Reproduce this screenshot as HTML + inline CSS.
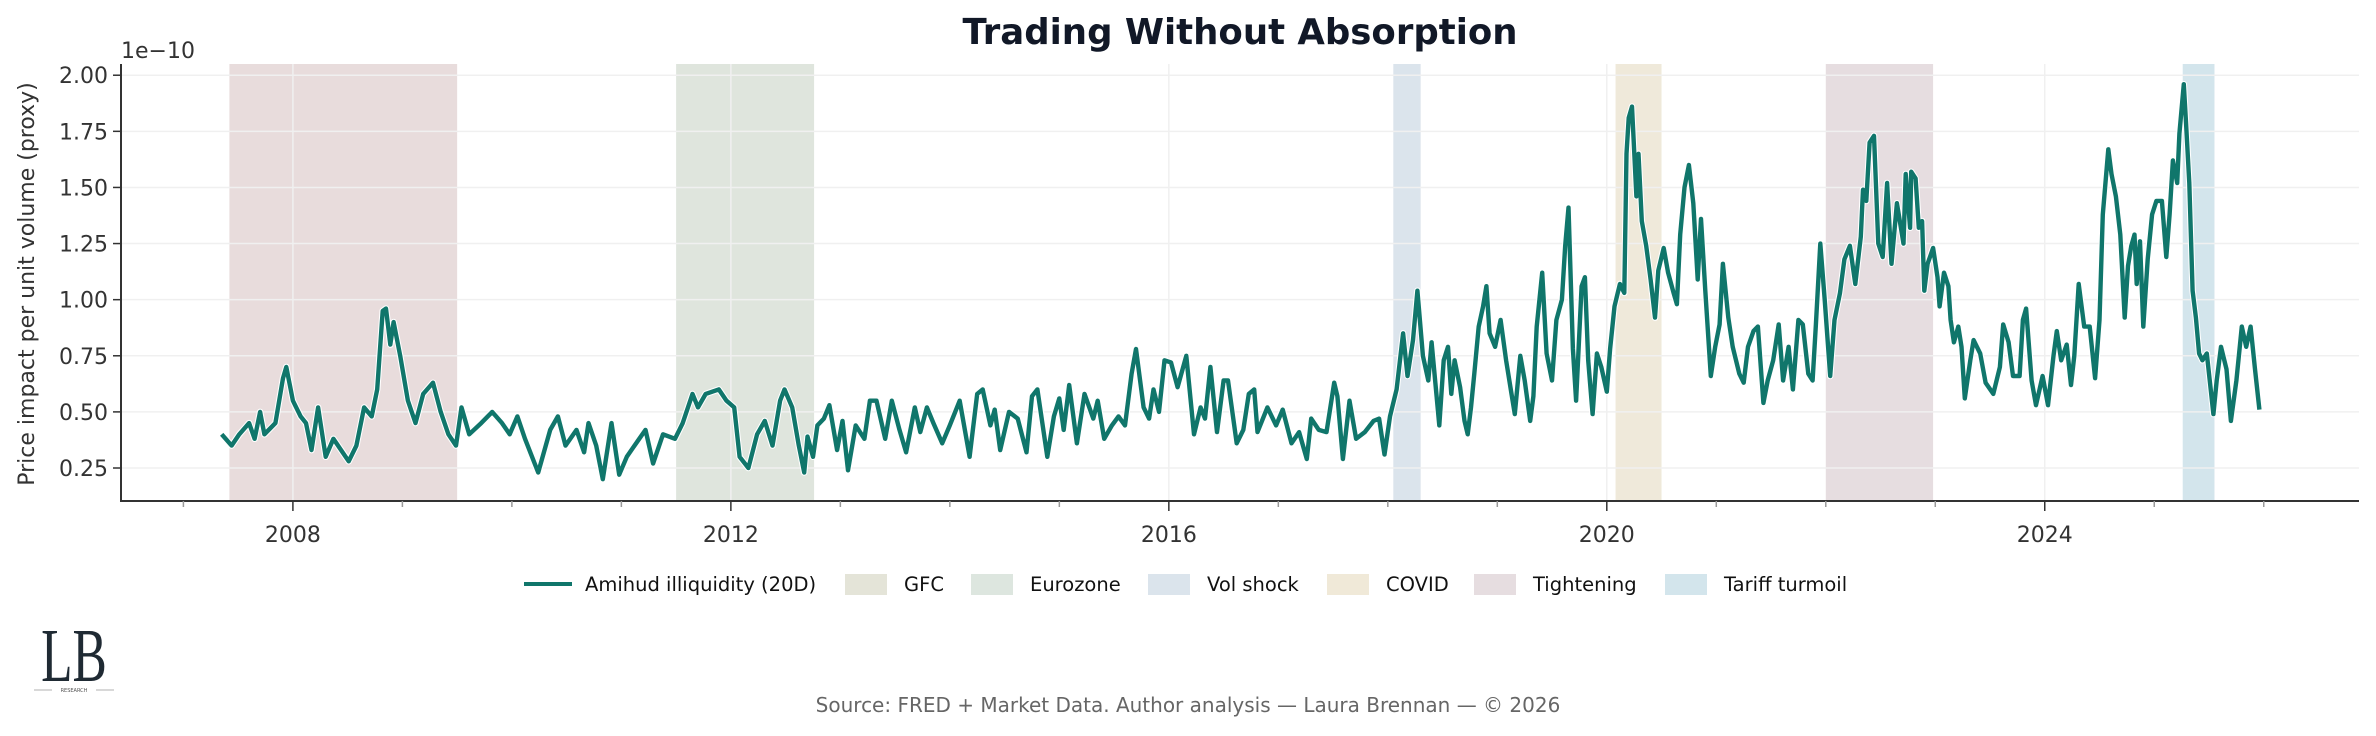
<!DOCTYPE html>
<html><head><meta charset="utf-8"><style>
html,body{margin:0;padding:0;background:#fff;}
svg{display:block;font-family:"DejaVu Sans","Liberation Sans",sans-serif;}
</style></head><body>
<svg id="chart" width="2376" height="736" viewBox="0 0 2376 736">
<text x="1240" y="44" text-anchor="middle" font-size="35.5" font-weight="bold" fill="#111827">Trading Without Absorption</text>
<text x="121" y="58" font-size="22" fill="#333">1e−10</text>
<text transform="translate(34,284) rotate(-90)" text-anchor="middle" font-size="22" fill="#333">Price impact per unit volume (proxy)</text>
<g id="bands"></g><g id="grid"></g><g id="series"></g><g id="axes"></g><g id="legend"></g>
<g>
<text x="74" y="681" text-anchor="middle" font-family="Liberation Serif,serif" font-size="66" fill="#1f2a33" transform="translate(74,681) scale(0.78,1.15) translate(-74,-681)">LB</text>
<line x1="34" y1="690" x2="52" y2="690" stroke="#999" stroke-width="0.8"/>
<line x1="96" y1="690" x2="114" y2="690" stroke="#999" stroke-width="0.8"/>
<text x="74" y="692" text-anchor="middle" font-size="5" fill="#555">RESEARCH</text>
</g>
<text x="1188" y="712" text-anchor="middle" font-size="20" fill="#666">Source: FRED + Market Data. Author analysis — Laura Brennan — © 2026</text>
</svg>
<script>
const years = [2007.35,2007.44,2007.51,2007.60,2007.65,2007.70,2007.74,2007.84,2007.91,2007.94,2008.00,2008.07,2008.12,2008.17,2008.23,2008.30,2008.37,2008.44,2008.51,2008.58,2008.65,2008.72,2008.77,2008.82,2008.85,2008.89,2008.92,2008.98,2009.05,2009.12,2009.19,2009.28,2009.35,2009.42,2009.49,2009.54,2009.61,2009.72,2009.82,2009.91,2009.98,2010.05,2010.12,2010.24,2010.35,2010.42,2010.49,2010.59,2010.66,2010.70,2010.77,2010.83,2010.91,2010.98,2011.05,2011.12,2011.22,2011.29,2011.38,2011.49,2011.56,2011.65,2011.70,2011.77,2011.89,2011.96,2012.03,2012.08,2012.16,2012.24,2012.31,2012.38,2012.45,2012.49,2012.56,2012.62,2012.67,2012.70,2012.75,2012.79,2012.85,2012.90,2012.97,2013.02,2013.07,2013.14,2013.22,2013.27,2013.33,2013.41,2013.47,2013.54,2013.60,2013.68,2013.73,2013.79,2013.85,2013.93,2014.00,2014.09,2014.18,2014.25,2014.30,2014.37,2014.41,2014.46,2014.54,2014.62,2014.70,2014.75,2014.80,2014.89,2014.95,2015.00,2015.04,2015.09,2015.16,2015.23,2015.31,2015.35,2015.41,2015.48,2015.54,2015.60,2015.66,2015.70,2015.77,2015.82,2015.86,2015.91,2015.96,2016.02,2016.08,2016.16,2016.23,2016.29,2016.33,2016.38,2016.44,2016.50,2016.54,2016.62,2016.68,2016.73,2016.78,2016.81,2016.90,2016.98,2017.04,2017.12,2017.19,2017.26,2017.30,2017.37,2017.44,2017.51,2017.54,2017.59,2017.65,2017.71,2017.79,2017.87,2017.92,2017.97,2018.02,2018.08,2018.14,2018.18,2018.23,2018.27,2018.32,2018.37,2018.40,2018.47,2018.51,2018.55,2018.58,2018.61,2018.66,2018.70,2018.73,2018.76,2018.79,2018.83,2018.87,2018.90,2018.93,2018.98,2019.03,2019.08,2019.13,2019.16,2019.21,2019.25,2019.30,2019.33,2019.36,2019.41,2019.45,2019.50,2019.54,2019.59,2019.62,2019.65,2019.69,2019.72,2019.77,2019.80,2019.83,2019.87,2019.91,2019.95,2020.00,2020.03,2020.07,2020.12,2020.16,2020.18,2020.20,2020.23,2020.27,2020.29,2020.32,2020.36,2020.40,2020.44,2020.47,2020.52,2020.56,2020.61,2020.64,2020.67,2020.71,2020.75,2020.79,2020.83,2020.86,2020.90,2020.95,2020.99,2021.03,2021.06,2021.11,2021.15,2021.21,2021.25,2021.29,2021.34,2021.38,2021.43,2021.47,2021.52,2021.57,2021.61,2021.66,2021.70,2021.75,2021.79,2021.84,2021.88,2021.91,2021.95,2021.99,2022.04,2022.08,2022.13,2022.17,2022.22,2022.27,2022.32,2022.34,2022.37,2022.40,2022.44,2022.48,2022.52,2022.56,2022.60,2022.65,2022.71,2022.73,2022.77,2022.78,2022.82,2022.85,2022.88,2022.90,2022.93,2022.98,2023.02,2023.04,2023.08,2023.12,2023.14,2023.17,2023.21,2023.24,2023.27,2023.32,2023.35,2023.41,2023.46,2023.53,2023.59,2023.62,2023.67,2023.71,2023.77,2023.80,2023.83,2023.88,2023.92,2023.98,2024.03,2024.08,2024.11,2024.15,2024.20,2024.24,2024.27,2024.31,2024.36,2024.41,2024.46,2024.50,2024.53,2024.58,2024.61,2024.65,2024.69,2024.73,2024.76,2024.79,2024.82,2024.84,2024.87,2024.90,2024.94,2024.98,2025.02,2025.07,2025.11,2025.14,2025.17,2025.21,2025.23,2025.27,2025.29,2025.32,2025.35,2025.38,2025.41,2025.44,2025.48,2025.54,2025.57,2025.61,2025.66,2025.70,2025.75,2025.80,2025.84,2025.88,2025.92,2025.96];
const amihud = [0.40,0.35,0.40,0.45,0.38,0.50,0.40,0.45,0.65,0.70,0.55,0.48,0.45,0.33,0.52,0.30,0.38,0.33,0.28,0.35,0.52,0.48,0.60,0.95,0.96,0.80,0.90,0.75,0.55,0.45,0.58,0.63,0.50,0.40,0.35,0.52,0.40,0.45,0.50,0.45,0.40,0.48,0.38,0.23,0.42,0.48,0.35,0.42,0.32,0.45,0.35,0.20,0.45,0.22,0.30,0.35,0.42,0.27,0.40,0.38,0.45,0.58,0.52,0.58,0.60,0.55,0.52,0.30,0.25,0.40,0.46,0.35,0.55,0.60,0.52,0.35,0.23,0.39,0.30,0.44,0.47,0.53,0.33,0.46,0.24,0.44,0.38,0.55,0.55,0.38,0.55,0.42,0.32,0.52,0.41,0.52,0.45,0.36,0.44,0.55,0.30,0.58,0.60,0.44,0.51,0.33,0.50,0.47,0.32,0.57,0.60,0.30,0.48,0.56,0.42,0.62,0.36,0.58,0.47,0.55,0.38,0.44,0.48,0.44,0.67,0.78,0.52,0.47,0.60,0.50,0.73,0.72,0.61,0.75,0.40,0.52,0.47,0.70,0.41,0.64,0.64,0.36,0.42,0.58,0.60,0.41,0.52,0.44,0.51,0.36,0.41,0.29,0.47,0.42,0.41,0.63,0.57,0.29,0.55,0.38,0.41,0.46,0.47,0.31,0.48,0.60,0.85,0.66,0.82,1.04,0.75,0.64,0.81,0.44,0.73,0.79,0.58,0.73,0.61,0.46,0.40,0.52,0.67,0.88,0.97,1.06,0.85,0.79,0.91,0.73,0.58,0.49,0.75,0.64,0.46,0.57,0.88,1.12,0.76,0.64,0.91,1.00,1.24,1.41,0.78,0.55,1.06,1.10,0.73,0.49,0.76,0.70,0.59,0.78,0.97,1.07,1.03,1.65,1.81,1.86,1.46,1.65,1.35,1.24,1.09,0.92,1.13,1.23,1.12,1.03,0.98,1.29,1.50,1.60,1.43,1.09,1.36,1.04,0.66,0.79,0.89,1.16,0.92,0.79,0.67,0.63,0.79,0.86,0.88,0.54,0.64,0.73,0.89,0.64,0.79,0.60,0.91,0.89,0.67,0.64,0.89,1.25,1.00,0.66,0.91,1.03,1.18,1.24,1.07,1.28,1.49,1.44,1.70,1.73,1.25,1.19,1.52,1.16,1.43,1.25,1.56,1.32,1.57,1.54,1.32,1.35,1.04,1.16,1.23,1.10,0.97,1.12,1.06,0.91,0.81,0.88,0.79,0.56,0.73,0.82,0.76,0.63,0.58,0.70,0.89,0.81,0.66,0.66,0.91,0.96,0.64,0.53,0.66,0.53,0.75,0.86,0.73,0.80,0.62,0.75,1.07,0.88,0.88,0.65,0.91,1.38,1.67,1.56,1.46,1.29,0.92,1.15,1.24,1.29,1.07,1.26,0.88,1.18,1.38,1.44,1.44,1.19,1.38,1.62,1.52,1.74,1.96,1.79,1.52,1.04,0.92,0.76,0.73,0.76,0.49,0.64,0.79,0.69,0.46,0.64,0.88,0.79,0.88,0.69,0.51];
const bandNames = ["GFC","Eurozone","Vol shock","COVID","Tightening","Tariff turmoil"];
const bandStarts = [2007.42,2011.50,2018.05,2020.08,2022.00,2025.26];
const bandEnds = [2009.50,2012.76,2018.30,2020.50,2022.98,2025.55];
const yTicks = [0.25,0.50,0.75,1.00,1.25,1.50,1.75,2.00];
const yTickLabels = ["0.25","0.50","0.75","1.00","1.25","1.50","1.75","2.00"];
const xMajor = [2008,2012,2016,2020,2024];
const xMajorLabels = ["2008","2012","2016","2020","2024"];

const NS="http://www.w3.org/2000/svg";
const L=121,R=2359,T=64,B=501;
const X0=2006.43,X1=2026.87,Y0=0.103,Y1=2.05;
function xs(v){return L+(v-X0)/(X1-X0)*(R-L);}
function ys(v){return B-(v-Y0)/(Y1-Y0)*(B-T);}
function mk(tag,attrs,parent){const e=document.createElementNS(NS,tag);for(const k in attrs)e.setAttribute(k,attrs[k]);parent.appendChild(e);return e;}
const bandFill=["#e8dcdc","#dfe5dd","#dbe4ec","#efe9da","#e6dde0","#d3e5ec"];
const legendFill=["#e4e4d8","#dde6df","#dbe4ec","#f0e9d8","#e6dde0","#d3e5ec"];
const gB=document.getElementById('bands');
bandNames.forEach((n,i)=>{
  const r=mk('rect',{x:xs(bandStarts[i]),y:T,width:xs(bandEnds[i])-xs(bandStarts[i]),height:B-T,fill:bandFill[i]},gB);
  
  
});
const gG=document.getElementById('grid');
yTicks.forEach(v=>{mk('line',{x1:L,x2:R,y1:ys(v),y2:ys(v),stroke:"#f0f0f0","stroke-width":1.5},gG);});
xMajor.forEach(v=>{mk('line',{x1:xs(v),x2:xs(v),y1:T,y2:B,stroke:"#f0f0f0","stroke-width":1.5},gG);});
const gS=document.getElementById('series');
let d=years.map((y,i)=>(i?'L':'M')+xs(y).toFixed(1)+','+ys(amihud[i]).toFixed(1)).join('');
mk('path',{d:d,fill:"none",stroke:"#fff","stroke-width":6.5,"stroke-linejoin":"round"},gS);
const line=mk('path',{d:d,fill:"none",stroke:"#10766b","stroke-width":4.4,"stroke-linejoin":"round"},gS);


const gA=document.getElementById('axes');
mk('line',{x1:L,x2:L,y1:T,y2:B+1,stroke:"#333","stroke-width":2},gA);
mk('line',{x1:L-1,x2:R,y1:B,y2:B,stroke:"#333","stroke-width":2},gA);
yTicks.forEach((v,i)=>{
  mk('line',{x1:L-8,x2:L,y1:ys(v),y2:ys(v),stroke:"#333","stroke-width":1.5},gA);
  const t=mk('text',{x:L-13,y:ys(v)+8,"text-anchor":"end","font-size":22,fill:"#333"},gA);
  t.textContent=yTickLabels[i];
  
  
});
for(let y=2007;y<=2026;y++){
  const major=xMajor.indexOf(y)>=0;
  mk('line',{x1:xs(y),x2:xs(y),y1:B,y2:B+(major?10:6),stroke:major?"#333":"#999","stroke-width":1.5},gA);
}
xMajor.forEach((v,i)=>{
  const t=mk('text',{x:xs(v),y:B+41,"text-anchor":"middle","font-size":22,fill:"#333"},gA);
  t.textContent=xMajorLabels[i];
  
  
});
const gL=document.getElementById('legend');
const ly=584;
const lh=mk('line',{x1:524,x2:572,y1:ly,y2:ly,stroke:"#10766b","stroke-width":4},gL);


const lt=mk('text',{x:585,y:ly+7,"font-size":19.5,fill:"#111"},gL);
lt.textContent="Amihud illiquidity (20D)";


const patchX=[845,971,1148,1327,1474,1665];
bandNames.forEach((n,i)=>{
  const p=mk('rect',{x:patchX[i],y:ly-10,width:42,height:21,fill:legendFill[i]},gL);
  
  
  const t=mk('text',{x:patchX[i]+59,y:ly+7,"font-size":19.5,fill:"#111"},gL);
  t.textContent=n;
  
  
});
</script>
</body></html>
